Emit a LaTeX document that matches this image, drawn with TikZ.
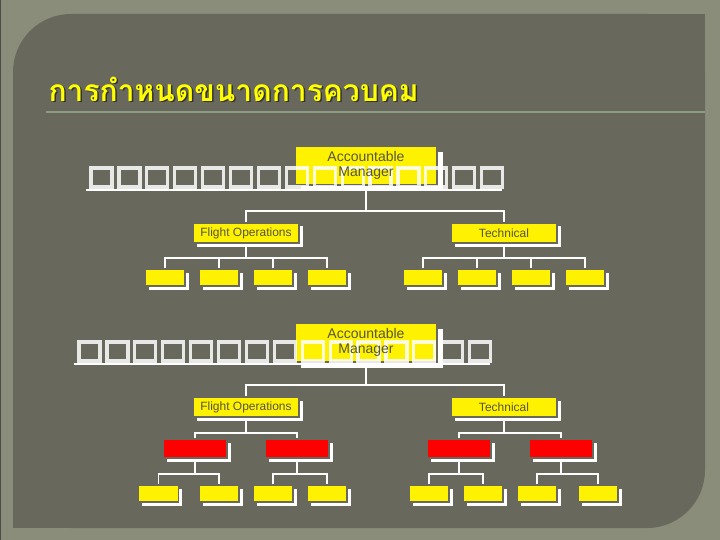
\documentclass[tikz,border=0pt]{standalone}
\usepackage{fontspec}
\setmainfont{Liberation Sans}
\newfontfamily\thaifont[Script=Thai]{Loma}
\usetikzlibrary{shadows}

\definecolor{frameclr}{RGB}{138,141,122}
\definecolor{panelclr}{RGB}{104,104,92}
\definecolor{ruleclr}{RGB}{140,156,132}
\definecolor{inkclr}{RGB}{85,85,62}
\definecolor{titleclr}{RGB}{255,255,0}

\begin{document}
\begin{tikzpicture}[x=1pt,y=1pt,yscale=-1,xscale=1,
  link/.style={draw=white, line width=1.5pt},
  tofu/.style={draw=white, draw opacity=0.85, line width=3.2pt},
  topbox/.style={fill=yellow, draw=panelclr, line width=2pt, inner sep=0pt,
    minimum width=142pt, minimum height=39pt,
    drop shadow={shadow xshift=6pt, shadow yshift=-6pt, fill=white, opacity=1}},
  midbox/.style={fill=yellow, draw=panelclr, line width=1.5pt, inner sep=0pt,
    minimum width=106pt, minimum height=20pt, text=inkclr, font=\fontsize{12}{14}\selectfont,
    drop shadow={shadow xshift=3.5pt, shadow yshift=-3.5pt, fill=white, opacity=1}},
  leafbox/.style={fill=yellow, draw=panelclr, line width=1.5pt, inner sep=0pt,
    minimum width=40pt, minimum height=17pt,
    drop shadow={shadow xshift=3.5pt, shadow yshift=-3.5pt, fill=white, opacity=1}},
  redbox/.style={leafbox, fill=red, minimum width=64pt, minimum height=19pt},
  amtext/.style={text=inkclr, align=center, font=\fontsize{14}{15}\selectfont}]

% background
\useasboundingbox (0,0) rectangle (720,540);
\fill[frameclr] (0,0) rectangle (720,540);
\draw[black!70, line width=1pt] (0,0) rectangle (720,540);
\fill[panelclr, rounded corners=58pt] (13,14) rectangle (705,528);
\fill[panelclr] (400,14) rectangle (705,300);
\fill[panelclr] (13,300) rectangle (300,528);

% title
\node[anchor=west, text=black!80, font=\thaifont\bfseries\fontsize{30}{34}\selectfont] at (46.5,90.5) {การกำหนดขนาดการควบคม};
\node (title) [anchor=west, text=titleclr, font=\thaifont\bfseries\fontsize{30}{34}\selectfont] at (45,89) {การกำหนดขนาดการควบคม};
\draw[ruleclr, line width=1.2pt] (46,112) -- (705,112);

% chart 1
\node (am1) [topbox] at (366,165.5) {};
\foreach \i in {0,...,14}
  \draw[tofu] (91+27.9*\i,168) rectangle ++(21,19);
\draw[white, line width=2.8pt] (86,190) -- (502,190);
\node[amtext] at (am1) {Accountable\\Manager};

\node (fo1) [midbox] at (246,233) {Flight Operations};
\node (tc1) [midbox] at (504,233) {Technical};
\coordinate (j1) at (366,211);
\draw[link] (am1.south) -- (j1);
\draw[link] (fo1.north) |- (j1) -| (tc1.north);

\foreach \x [count=\n] in {165,219,273,327}
  \node (fl\n) [leafbox] at (\x,277.5) {};
\foreach \x [count=\n] in {423,477,531,585}
  \node (tl\n) [leafbox] at (\x,277.5) {};
\coordinate (j2) at (246,258);
\coordinate (j3) at (504,258);
\draw[link] (fo1.south) -- (j2);
\draw[link] (tc1.south) -- (j3);
\draw[link] (fl1.north) |- (j2) -| (fl4.north);
\draw[link] (tl1.north) |- (j3) -| (tl4.north);
\foreach \n in {2,3} {
  \draw[link] (fl\n.north) -- (fl\n.north |- j2);
  \draw[link] (tl\n.north) -- (tl\n.north |- j3);
}

% chart 2
\node (am2) [topbox] at (366,342.5) {};
\foreach \i in {0,...,14}
  \draw[tofu] (79+27.9*\i,342) rectangle ++(21,19);
\draw[white, line width=2.8pt] (74,364) -- (490,364);
\node[amtext] at (am2) {Accountable\\Manager};

\node (fo2) [midbox] at (246,407) {Flight Operations};
\node (tc2) [midbox] at (504,407) {Technical};
\coordinate (k1) at (366,385);
\draw[link] (am2.south) -- (k1);
\draw[link] (fo2.north) |- (k1) -| (tc2.north);

\foreach \x [count=\n] in {195,297,459,561}
  \node (rd\n) [redbox] at (\x,448.5) {};
\coordinate (k2) at (246,433);
\coordinate (k3) at (507,433);
\draw[link] (fo2.south) -- (k2);
\draw[link] (tc2.south) -- (tc2.south |- k3);
\draw[link] (rd1.north) |- (k2) -| (rd2.north);
\draw[link] (rd3.north) |- (k3) -| (rd4.north);

\foreach \x [count=\n] in {158.5,219,273,327,429,483,537,598}
  \node (lf\n) [leafbox] at (\x,493.5) {};
\foreach \r/\a/\b in {1/1/2,2/3/4,3/5/6,4/7/8} {
  \coordinate (m\r) at (rd\r.south |- 0,474);
  \draw[link] (rd\r.south) -- (m\r);
  \draw[link] (lf\a.north) |- (m\r) -| (lf\b.north);
}
\end{tikzpicture}
\end{document}
